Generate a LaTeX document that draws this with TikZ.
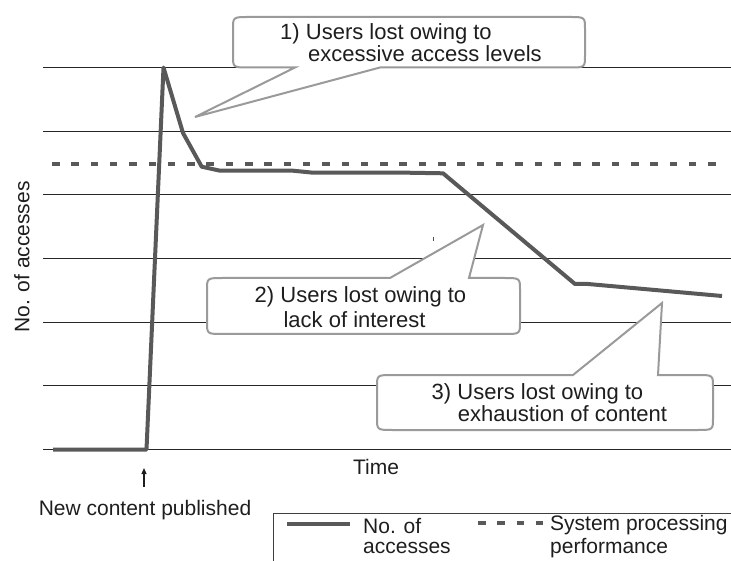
\documentclass[tikz,border=0pt]{standalone}
\usepackage{fontspec}
\setmainfont{Liberation Sans}
\usetikzlibrary{arrows.meta}
\definecolor{txt}{HTML}{1E1E1E}
\definecolor{dataline}{HTML}{595959}
\definecolor{calloutgray}{HTML}{9A9A9A}
\begin{document}
\begin{tikzpicture}[x=1pt,y=-1pt,
  gridln/.style={line width=1.2pt, draw=black!85},
  dataln/.style={line width=4pt, draw=dataline, line join=round},
  perf/.style={line width=3.6pt, draw=dataline, dash pattern=on 7.5pt off 11.8pt},
  bubble/.style={draw=calloutgray, line width=2pt, fill=white},
  lbl/.style={font=\fontsize{21}{25}\selectfont, text=txt, inner sep=0pt},
  ctext/.style={font=\fontsize{22}{26}\selectfont, text=txt, inner sep=0pt, anchor=base},
  uparrow/.style={line width=1.2pt, draw=txt, -{Triangle[length=6pt,width=5pt]}},
]
\useasboundingbox (0,0) rectangle (731,561);

% grid lines
\foreach \yy in {67.5,131.2,194.8,258.5,322.2,385.8,449.5}
  \draw[gridln] (43,\yy) -- (731,\yy);

% system processing performance
\draw[perf] (52,164) -- (724,164);

% number of accesses
\draw[dataln] (53,449.5) -- (146.5,449.5) -- (163.5,67.5) -- (183,133) -- (201.7,166.7)
  -- (220,170.7) -- (293,170.7) -- (313,172.7) -- (407,172.7) -- (443,173.3)
  -- (575,284) -- (588,284) -- (722,296);

% stray tick
\draw[line width=1pt, draw=black!70] (433,237) -- (433,241);

% callout 1 (pointer at bottom): L=233 R=585 T=17 B=67.5
\draw[bubble] (380,67.5) -- (569,67.5) .. controls (585,67.5) .. (585,55.5)
  -- (585,29) .. controls (585,17) .. (569,17) -- (249,17) .. controls (233,17) .. (233,29)
  -- (233,55.5) .. controls (233,67.5) .. (249,67.5) -- (295,67.5) -- (195,117) -- cycle;
% callout 2 (pointer at top): L=207 R=520 T=278 B=334
\draw[bubble] (390,278) -- (483,225) -- (469,278) -- (504,278) .. controls (520,278) .. (520,290)
  -- (520,322) .. controls (520,334) .. (504,334) -- (223,334) .. controls (207,334) .. (207,322)
  -- (207,290) .. controls (207,278) .. (223,278) -- cycle;
% callout 3 (pointer at top): L=377 R=713 T=375 B=430
\draw[bubble] (573,375) -- (662,303) -- (658,375) -- (697,375) .. controls (713,375) .. (713,387)
  -- (713,418) .. controls (713,430) .. (697,430) -- (393,430) .. controls (377,430) .. (377,418)
  -- (377,387) .. controls (377,375) .. (393,375) -- cycle;

% callout texts
\node[ctext] (c1a) at (386,39.3) {1) Users lost owing to};
\node[ctext] (c1b) at (425,61.7) {excessive access levels};
\node[ctext] (c2a) at (360.5,302.7) {2) Users lost owing to};
\node[ctext] (c2b) at (354.5,328) {lack of interest};
\node[ctext] (c3a) at (537.5,399) {3) Users lost owing to};
\node[ctext] (c3b) at (562.5,421.7) {exhaustion of content};

% axis labels
\node[lbl, rotate=90] (ylab) at (22,257) {No. of accesses};
\node[lbl, anchor=base] (time) at (376,474.3) {Time};
\node[lbl, anchor=base] (pub) at (145,515) {New content published};
\coordinate (arrbase) at (144,487);
\coordinate (arrtip) at (144,468);
\draw[uparrow] (arrbase) -- (arrtip);

% legend
\draw[line width=1pt, draw=black!75] (273,561) -- (273,513) -- (731,513);
\draw[dataln] (287,524) -- (350,524);
\draw[perf] (478,523) -- (543,523);
\node[lbl, anchor=base west] (l1a) at (363,533) {No. of};
\node[lbl, anchor=base west] (l1b) at (363,553) {accesses};
\node[lbl, anchor=base west] (l2a) at (550,530) {System processing};
\node[lbl, anchor=base west] (l2b) at (550,553) {performance};
\end{tikzpicture}
\end{document}
